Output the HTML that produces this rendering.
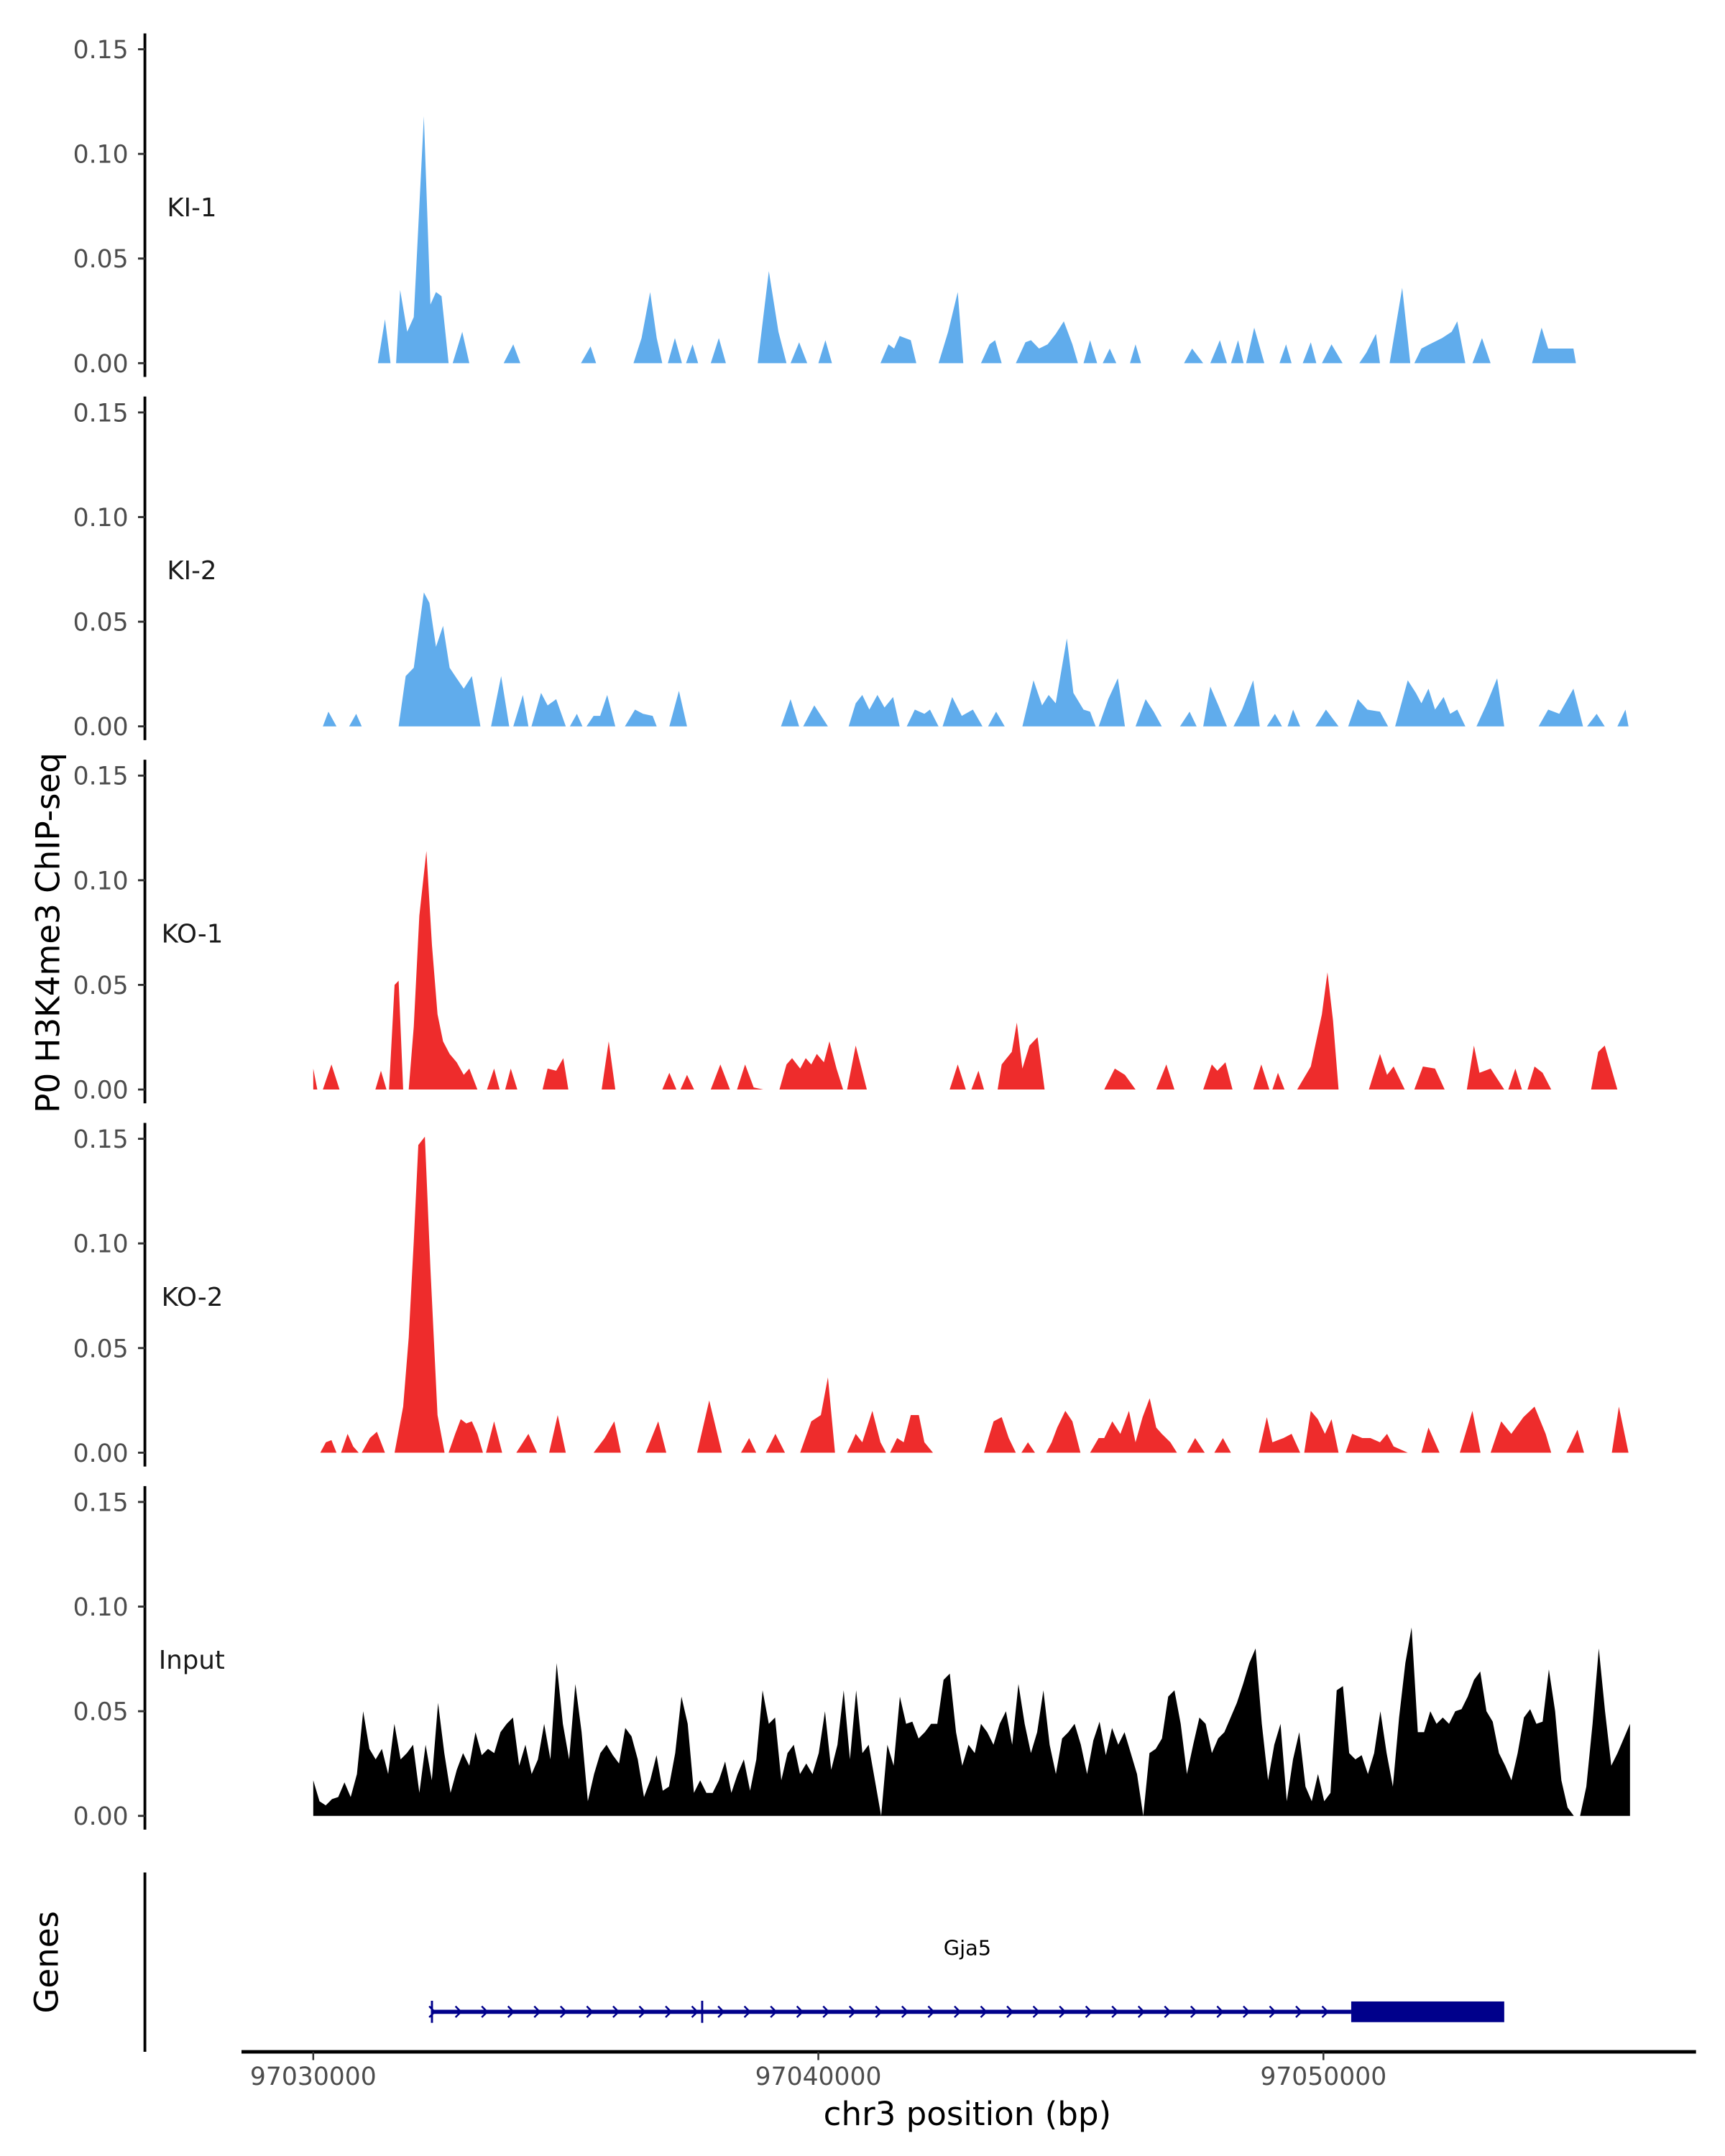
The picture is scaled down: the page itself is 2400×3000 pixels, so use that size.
<!DOCTYPE html>
<html><head><meta charset="utf-8"><style>
html,body{margin:0;padding:0;background:#fff;}
svg{display:block;font-family:"DejaVu Sans","Liberation Sans",sans-serif;}
</style></head><body>
<svg id="chart" width="2400" height="3000" viewBox="0 0 1250 1562.5" xmlns="http://www.w3.org/2000/svg">
<rect width="1250" height="1562.5" fill="#fff"/>
<text x="0" y="0" transform="translate(43,676) rotate(-90)" text-anchor="middle" font-size="23.5" fill="#000">P0 H3K4me3 ChIP-seq</text>
<text x="0" y="0" transform="translate(42,1422) rotate(-90)" text-anchor="middle" font-size="23.5" fill="#000">Genes</text>
<text x="701" y="1540" text-anchor="middle" font-size="23.5" fill="#000">chr3 position (bp)</text>
<g id="tracks"></g>
<g id="genes"></g>
<g id="xaxis"></g>
</svg>
<script>
// Data: positions in kb relative to chr3:97,030,000; values = signal
const regionStartBp = 97030000;
const yTicks = [0, 0.05, 0.10, 0.15];
const yTickLabels = ["0.00", "0.05", "0.10", "0.15"];
const xTicksBp = [97030000, 97040000, 97050000];
const xTickLabels = ["97030000", "97040000", "97050000"];
const sampleNames = ["KI-1", "KI-2", "KO-1", "KO-2", "Input"];
const sampleColors = ["#60acec", "#60acec", "#ee2c2c", "#ee2c2c", "#000000"];

const ki1 = [[1.28,0],[1.42,0.021],[1.53,0],[1.64,0],[1.72,0.035],[1.86,0.015],[1.99,0.022],[2.19,0.118],[2.32,0.028],[2.43,0.034],[2.54,0.032],[2.68,0],[2.76,0],[2.95,0.015],[3.09,0],[3.77,0],[3.96,0.009],[4.10,0],[5.30,0],[5.49,0.008],[5.60,0],[6.34,0],[6.50,0.012],[6.67,0.034],[6.80,0.012],[6.91,0],[7.02,0],[7.16,0.012],[7.30,0],[7.38,0],[7.51,0.009],[7.62,0],[7.87,0],[8.03,0.012],[8.17,0],[8.80,0],[9.02,0.044],[9.21,0.015],[9.37,0],[9.45,0],[9.62,0.010],[9.78,0],[10.00,0],[10.14,0.011],[10.27,0],[11.23,0],[11.39,0.009],[11.50,0.007],[11.61,0.013],[11.83,0.011],[11.94,0],[12.38,0],[12.57,0.015],[12.76,0.034],[12.87,0],[13.22,0],[13.39,0.009],[13.50,0.011],[13.63,0],[13.91,0],[14.10,0.010],[14.21,0.011],[14.37,0.007],[14.54,0.009],[14.70,0.014],[14.86,0.020],[15.03,0.009],[15.14,0],[15.25,0],[15.38,0.011],[15.52,0],[15.63,0],[15.77,0.007],[15.90,0],[16.17,0],[16.28,0.009],[16.39,0],[17.24,0],[17.40,0.007],[17.62,0],[17.76,0],[17.95,0.011],[18.09,0],[18.17,0],[18.31,0.011],[18.42,0],[18.47,0],[18.63,0.017],[18.83,0],[19.13,0],[19.26,0.009],[19.37,0],[19.59,0],[19.75,0.010],[19.86,0],[19.97,0],[20.16,0.009],[20.38,0],[20.71,0],[20.85,0.005],[21.04,0.014],[21.12,0],[21.31,0],[21.56,0.036],[21.72,0],[21.80,0],[21.94,0.007],[22.10,0.009],[22.35,0.012],[22.54,0.015],[22.65,0.020],[22.81,0],[22.95,0],[23.14,0.012],[23.31,0],[24.13,0],[24.32,0.017],[24.45,0.007],[24.67,0.007],[24.95,0.007],[25.00,0]];

const ki2 = [[0.19,0],[0.30,0.007],[0.46,0],[0.71,0],[0.85,0.006],[0.96,0],[1.69,0],[1.83,0.024],[1.99,0.028],[2.19,0.064],[2.30,0.059],[2.43,0.038],[2.57,0.048],[2.70,0.028],[2.81,0.024],[2.98,0.018],[3.14,0.024],[3.31,0],[3.52,0],[3.72,0.024],[3.88,0],[3.96,0],[4.15,0.015],[4.26,0],[4.32,0],[4.51,0.016],[4.64,0.010],[4.81,0.013],[5.00,0],[5.08,0],[5.22,0.006],[5.33,0],[5.41,0],[5.55,0.005],[5.68,0.005],[5.82,0.015],[5.98,0],[6.17,0],[6.37,0.008],[6.53,0.006],[6.72,0.005],[6.80,0],[7.05,0],[7.24,0.017],[7.40,0],[9.26,0],[9.45,0.013],[9.62,0],[9.70,0],[9.92,0.010],[10.19,0],[10.60,0],[10.74,0.011],[10.87,0.015],[11.01,0.008],[11.17,0.015],[11.31,0.009],[11.48,0.014],[11.61,0],[11.75,0],[11.91,0.008],[12.10,0.006],[12.21,0.008],[12.38,0],[12.46,0],[12.65,0.014],[12.84,0.005],[13.06,0.008],[13.25,0],[13.36,0],[13.52,0.007],[13.69,0],[14.04,0],[14.26,0.022],[14.43,0.010],[14.56,0.015],[14.70,0.011],[14.92,0.042],[15.05,0.016],[15.25,0.008],[15.38,0.007],[15.49,0],[15.55,0],[15.74,0.013],[15.93,0.023],[16.07,0],[16.28,0],[16.48,0.013],[16.64,0.007],[16.80,0],[17.16,0],[17.35,0.007],[17.49,0],[17.62,0],[17.76,0.019],[17.92,0.010],[18.09,0],[18.22,0],[18.39,0.008],[18.61,0.022],[18.74,0],[18.88,0],[19.04,0.006],[19.18,0],[19.29,0],[19.40,0.008],[19.54,0],[19.84,0],[20.05,0.008],[20.30,0],[20.49,0],[20.68,0.013],[20.87,0.008],[21.12,0.007],[21.28,0],[21.42,0],[21.67,0.022],[21.83,0.016],[21.94,0.011],[22.08,0.018],[22.21,0.008],[22.38,0.014],[22.51,0.006],[22.65,0.008],[22.81,0],[23.03,0],[23.22,0.010],[23.44,0.023],[23.58,0],[24.26,0],[24.45,0.008],[24.67,0.006],[24.95,0.018],[25.14,0],[25.22,0],[25.41,0.006],[25.57,0],[25.82,0],[25.98,0.008],[26.04,0]];

const ko1 = [[0.00,0.010],[0.08,0],[0.19,0],[0.36,0.012],[0.52,0],[1.23,0],[1.34,0.009],[1.45,0],[1.50,0],[1.61,0.050],[1.69,0.052],[1.78,0],[1.89,0],[1.99,0.030],[2.10,0.083],[2.24,0.114],[2.35,0.069],[2.46,0.036],[2.57,0.023],[2.70,0.017],[2.84,0.013],[2.98,0.007],[3.09,0.010],[3.25,0],[3.44,0],[3.58,0.010],[3.69,0],[3.80,0],[3.91,0.010],[4.04,0],[4.54,0],[4.64,0.010],[4.81,0.009],[4.95,0.015],[5.05,0],[5.71,0],[5.85,0.023],[5.98,0],[6.91,0],[7.05,0.008],[7.19,0],[7.27,0],[7.40,0.007],[7.54,0],[7.87,0],[8.06,0.012],[8.25,0],[8.39,0],[8.55,0.012],[8.72,0.001],[8.91,0],[9.23,0],[9.37,0.012],[9.48,0.015],[9.64,0.010],[9.75,0.015],[9.86,0.012],[9.97,0.017],[10.11,0.013],[10.22,0.023],[10.36,0.010],[10.49,0],[10.57,0],[10.74,0.021],[10.96,0],[12.60,0],[12.76,0.012],[12.92,0],[13.03,0],[13.17,0.009],[13.28,0],[13.55,0],[13.63,0.012],[13.83,0.018],[13.93,0.032],[14.04,0.010],[14.18,0.021],[14.34,0.025],[14.48,0],[15.66,0],[15.87,0.010],[16.07,0.007],[16.28,0],[16.69,0],[16.89,0.012],[17.05,0],[17.62,0],[17.79,0.012],[17.90,0.009],[18.06,0.013],[18.20,0],[18.61,0],[18.77,0.012],[18.93,0],[18.99,0],[19.10,0.008],[19.23,0],[19.48,0],[19.75,0.011],[19.97,0.036],[20.08,0.056],[20.19,0.033],[20.30,0],[20.90,0],[21.12,0.017],[21.26,0.007],[21.39,0.011],[21.61,0],[21.80,0],[21.97,0.011],[22.21,0.010],[22.40,0],[22.84,0],[22.98,0.021],[23.09,0.008],[23.31,0.010],[23.58,0],[23.66,0],[23.80,0.010],[23.93,0],[24.04,0],[24.18,0.011],[24.34,0.008],[24.51,0],[25.30,0],[25.44,0.018],[25.57,0.021],[25.82,0]];

const ko2 = [[0.14,0],[0.25,0.005],[0.36,0.006],[0.46,0],[0.55,0],[0.68,0.009],[0.79,0.003],[0.90,0],[0.96,0],[1.12,0.007],[1.26,0.010],[1.42,0],[1.61,0],[1.78,0.022],[1.89,0.055],[1.99,0.101],[2.08,0.147],[2.21,0.151],[2.32,0.088],[2.46,0.018],[2.60,0],[2.68,0],[2.81,0.009],[2.92,0.016],[3.03,0.014],[3.14,0.015],[3.25,0.009],[3.36,0],[3.42,0],[3.58,0.015],[3.74,0],[4.02,0],[4.26,0.009],[4.43,0],[4.67,0],[4.84,0.018],[5.00,0],[5.55,0],[5.77,0.007],[5.96,0.015],[6.09,0],[6.58,0],[6.83,0.015],[6.99,0],[7.60,0],[7.84,0.025],[8.09,0],[8.47,0],[8.63,0.007],[8.77,0],[8.96,0],[9.15,0.009],[9.34,0],[9.64,0],[9.86,0.015],[10.05,0.018],[10.19,0.036],[10.33,0],[10.57,0],[10.74,0.009],[10.87,0.005],[11.07,0.020],[11.23,0.005],[11.34,0],[11.42,0],[11.56,0.007],[11.69,0.005],[11.83,0.018],[11.99,0.018],[12.10,0.005],[12.27,0],[13.28,0],[13.47,0.015],[13.63,0.017],[13.77,0.007],[13.91,0],[14.02,0],[14.15,0.005],[14.29,0],[14.51,0],[14.62,0.005],[14.73,0.012],[14.89,0.020],[15.03,0.015],[15.19,0],[15.38,0],[15.55,0.007],[15.66,0.007],[15.82,0.015],[15.98,0.009],[16.15,0.020],[16.28,0.005],[16.42,0.017],[16.56,0.026],[16.69,0.012],[16.80,0.009],[16.97,0.005],[17.10,0],[17.30,0],[17.46,0.007],[17.65,0],[17.84,0],[18.01,0.007],[18.17,0],[18.72,0],[18.88,0.017],[18.99,0.005],[19.21,0.007],[19.37,0.009],[19.54,0],[19.62,0],[19.75,0.020],[19.89,0.016],[20.03,0.009],[20.16,0.016],[20.30,0],[20.44,0],[20.57,0.009],[20.77,0.007],[20.93,0.007],[21.12,0.005],[21.26,0.009],[21.39,0.003],[21.67,0],[21.94,0],[22.08,0.012],[22.30,0],[22.70,0],[22.95,0.020],[23.11,0],[23.31,0],[23.52,0.015],[23.72,0.009],[23.96,0.017],[24.18,0.022],[24.40,0.009],[24.51,0],[24.81,0],[25.03,0.011],[25.16,0],[25.71,0],[25.85,0.022],[26.04,0]];

// Input: evenly binned from 0 to inputSpanKb
const inputSpanKb = 26.07;
const inputValues = [.017,.007,.005,.008,.009,.016,.009,.020,.050,.032,.027,.032,.020,.044,.027,.030,.034,.011,.034,.017,.054,.030,.011,.022,.030,.024,.040,.029,.032,.030,.040,.044,.047,.024,.034,.020,.027,.044,.027,.073,.044,.027,.063,.040,.007,.020,.030,.034,.029,.025,.042,.038,.027,.009,.017,.029,.012,.014,.030,.057,.044,.011,.017,.011,.011,.017,.026,.011,.020,.027,.012,.027,.060,.044,.047,.017,.030,.034,.020,.025,.020,.030,.050,.022,.034,.060,.027,.060,.030,.034,.017,0,.034,.024,.057,.044,.045,.037,.040,.044,.044,.065,.068,.040,.024,.034,.030,.044,.040,.034,.044,.050,.034,.063,.044,.030,.040,.060,.034,.020,.037,.040,.044,.034,.020,.036,.045,.029,.042,.034,.040,.030,.020,0,.030,.032,.037,.057,.060,.044,.020,.034,.047,.044,.030,.037,.040,.047,.054,.063,.073,.080,.044,.017,.034,.044,.007,.027,.040,.014,.007,.020,.007,.011,.060,.062,.030,.027,.029,.020,.030,.050,.030,.014,.047,.073,.090,.040,.040,.050,.044,.047,.044,.050,.051,.057,.065,.069,.050,.045,.030,.024,.017,.030,.047,.051,.044,.045,.070,.050,.017,.004,0,0,.014,.044,.080,.050,.024,.030,.037,.044];

// Gene model (bp)
const geneName = "Gja5";
const geneTxStart = 97032350;
const geneTxEnd = 97053580;
const geneExonMarks = [97032350, 97037700];
const geneThickStart = 97050550;
const geneThickEnd = 97053580;
const geneArrowStepBp = 520;

// ---- layout / scales ----
const NS = "http://www.w3.org/2000/svg";
const X0 = 227, PX_PER_BP = 366 / 10000;
function xScale(bp){ return X0 + (bp - regionStartBp) * PX_PER_BP; }
function xKb(kb){ return xScale(regionStartBp + kb * 1000); }
const PANEL_BASE0 = 263.2, PANEL_STEP = 263.2, PX_PER_UNIT = 227.5 / 0.15;
function yScale(panel, v){ return PANEL_BASE0 + panel * PANEL_STEP - v * PX_PER_UNIT; }
function mk(tag, attrs, parent){ const e = document.createElementNS(NS, tag); for (const k in attrs) e.setAttribute(k, attrs[k]); parent.appendChild(e); return e; }

const tracks = document.getElementById("tracks");
const seriesList = [ki1, ki2, ko1, ko2];
for (let p = 0; p < 5; p++) {
  const g = mk("g", {}, tracks);
  
  
  const base = yScale(p, 0);
  const ax = mk("line", {x1:105, x2:105, y1:base - 239, y2:base + 10, stroke:"#000", "stroke-width":2}, g);
  
  
  yTicks.forEach((t, i) => {
    const y = yScale(p, t);
    const tk = mk("line", {x1:100, x2:105, y1:y, y2:y, stroke:"#333", "stroke-width":1.5}, g);
    
    
    const tl = mk("text", {x:93, y:y + 6.5, "text-anchor":"end", "font-size":18, fill:"#4d4d4d"}, g);
    tl.textContent = yTickLabels[i];
    
    
  });
  const lab = mk("text", {x: (p === 2 || p === 3) ? 117 : (p === 4 ? 115 : 121), y: base - 106.5, "font-size":18.5, fill:"#1a1a1a"}, g);
  lab.textContent = sampleNames[p];
  
  
  let d;
  if (p < 4) {
    const s = seriesList[p];
    d = "M" + xKb(s[0][0]).toFixed(2) + "," + base;
    s.forEach(pt => { d += " L" + xKb(pt[0]).toFixed(2) + "," + yScale(p, pt[1]).toFixed(2); });
    d += " L" + xKb(s[s.length-1][0]).toFixed(2) + "," + base + " Z";
  } else {
    const n = inputValues.length;
    d = "M" + xKb(0).toFixed(2) + "," + base;
    inputValues.forEach((v, i) => { d += " L" + xKb(i * inputSpanKb / (n - 1)).toFixed(2) + "," + yScale(p, v).toFixed(2); });
    d += " L" + xKb(inputSpanKb).toFixed(2) + "," + base + " Z";
  }
  const area = mk("path", {d: d, fill: sampleColors[p]}, g);
  
  
}

// gene panel
const gg = document.getElementById("genes");
const gax = mk("line", {x1:105, x2:105, y1:1357, y2:1487, stroke:"#000", "stroke-width":2}, gg);


const GY = 1458;
const gl = mk("line", {x1:xScale(geneTxStart), x2:xScale(geneThickStart), y1:GY, y2:GY, stroke:"#00008b", "stroke-width":3}, gg);


geneExonMarks.forEach(b => {
  const m = mk("line", {x1:xScale(b), x2:xScale(b), y1:GY - 8, y2:GY + 8, stroke:"#00008b", "stroke-width":1.5}, gg);
  
  
});
for (let b = geneTxStart; b < geneThickStart - 100; b += geneArrowStepBp) {
  const x = xScale(b);
  const a = mk("polyline", {points:(x-2)+","+(GY-4)+" "+(x+2)+","+GY+" "+(x-2)+","+(GY+4), fill:"none", stroke:"#00008b", "stroke-width":1.3}, gg);
  
  
}
const box = mk("rect", {x:xScale(geneThickStart), y:GY - 7.5, width:xScale(geneThickEnd) - xScale(geneThickStart), height:15, fill:"#00008b"}, gg);


const gname = mk("text", {x:701, y:1417, "text-anchor":"middle", "font-size":15, fill:"#000"}, gg);
gname.textContent = geneName;



// x axis
const xg = document.getElementById("xaxis");
const xl = mk("line", {x1:175, x2:1229, y1:1487, y2:1487, stroke:"#000", "stroke-width":2.5}, xg);


xTicksBp.forEach((b, i) => {
  const x = xScale(b);
  const t = mk("line", {x1:x, x2:x, y1:1487, y2:1493, stroke:"#333", "stroke-width":1.3}, xg);
  
  
  const tl = mk("text", {x:x, y:1511, "text-anchor":"middle", "font-size":18, fill:"#4d4d4d"}, xg);
  tl.textContent = xTickLabels[i];
  
  
});
</script>
</body></html>
